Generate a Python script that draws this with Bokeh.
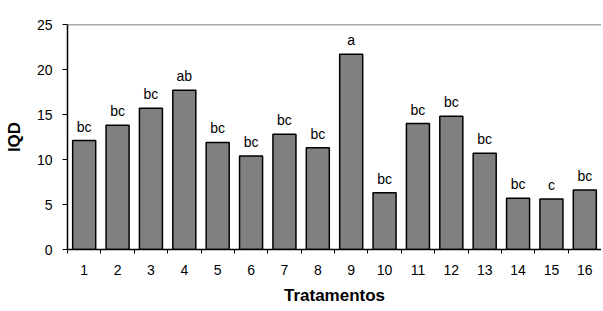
from bokeh.plotting import figure
from bokeh.models import Range1d, FixedTicker, Span, ColumnDataSource, LabelSet
from bokeh.core.properties import value
from bokeh.embed import file_html
from bokeh.resources import INLINE

tratamentos = list(range(1, 17))
iqd = [12.1, 13.8, 15.7, 17.7, 11.9, 10.4, 12.8, 11.3, 21.7, 6.3, 14.0, 14.8, 10.7, 5.7, 5.6, 6.6]
letras = ["bc", "bc", "bc", "ab", "bc", "bc", "bc", "bc", "a", "bc", "bc", "bc", "bc", "bc", "c", "bc"]
y_ticks = [0, 5, 10, 15, 20, 25]

FONT = "Liberation Sans"

src = ColumnDataSource(dict(x=tratamentos, top=iqd, lab=letras))

p = figure(width=601, height=309, output_backend="svg", toolbar_location=None,
           x_range=Range1d(0.5, 16.5), y_range=Range1d(0, 25),
           min_border_left=67, min_border_right=0, min_border_top=24, min_border_bottom=60)
p.outline_line_color = None
p.xgrid.visible = False
p.ygrid.visible = False
p.background_fill_color = "white"
p.border_fill_color = "white"

p.vbar(x="x", top="top", width=0.69, bottom=0, source=src,
       fill_color="#808080", line_color="black", line_width=1.5)

labels = LabelSet(x="x", y="top", text="lab", source=src, text_align="center",
                  text_baseline="alphabetic", y_offset=9, text_font=value(FONT),
                  text_font_size=value("14px"), text_color=value("black"))
p.add_layout(labels)

p.add_layout(Span(location=25, dimension="width", line_color="#555555", line_width=1.5))

xa = p.xaxis[0]
xa.ticker = FixedTicker(ticks=tratamentos, minor_ticks=[t - 0.5 for t in tratamentos] + [16.5])
xa.major_tick_line_color = None
xa.major_tick_out = 4
xa.major_tick_in = 0
xa.minor_tick_out = 4
xa.minor_tick_in = 0
xa.minor_tick_line_color = "black"
xa.axis_line_color = "black"
xa.axis_line_width = 1.5
xa.major_label_text_font = FONT
xa.major_label_text_font_size = "14px"
xa.major_label_text_color = "black"
xa.major_label_standoff = 11
xa.axis_label = "Tratamentos"
xa.axis_label_text_font = FONT
xa.axis_label_text_font_size = "17px"
xa.axis_label_text_font_style = "bold"
xa.axis_label_text_color = "black"
xa.axis_label_standoff = 8

ya = p.yaxis[0]
ya.ticker = FixedTicker(ticks=y_ticks, minor_ticks=[])
ya.major_tick_out = 5
ya.major_tick_in = 0
ya.major_tick_line_color = "black"
ya.axis_line_color = "black"
ya.axis_line_width = 1.5
ya.major_label_text_font = FONT
ya.major_label_text_font_size = "14px"
ya.major_label_text_color = "black"
ya.major_label_standoff = 10
ya.axis_label = "IQD"
ya.axis_label_text_font = FONT
ya.axis_label_text_font_size = "17px"
ya.axis_label_text_font_style = "bold"
ya.axis_label_text_color = "black"
ya.axis_label_standoff = 10

open("out.html", "w").write(file_html(p, INLINE))
